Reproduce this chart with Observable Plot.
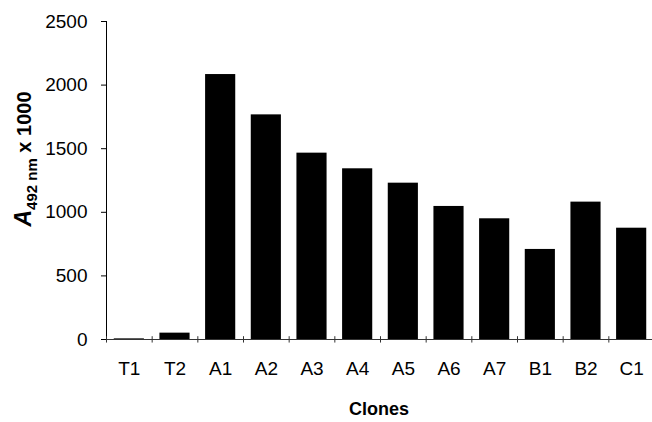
<!DOCTYPE html>
<html>
<head>
<meta charset="utf-8">
<script src="https://cdn.jsdelivr.net/npm/d3@7"></script>
<script src="https://cdn.jsdelivr.net/npm/@observablehq/plot@0.6"></script>
<style>
  html, body { margin: 0; padding: 0; background: #fff; }
  svg { font-family: "Liberation Sans", Arial, Helvetica, sans-serif; }
</style>
</head>
<body>
<div id="chart"></div>
<script>
const clones = ["T1", "T2", "A1", "A2", "A3", "A4", "A5", "A6", "A7", "B1", "B2", "C1"];
const absorbance = [5, 50, 2083, 1766, 1465, 1342, 1229, 1046, 949, 708, 1080, 875];
const yTicks = [0, 500, 1000, 1500, 2000, 2500];

const data = clones.map((c, i) => ({clone: c, value: absorbance[i]}));

const W = 652, H = 422;
const mL = 106, mR = 0, mT = 21, mB = 83;
const xEnd = 654;
const step = (xEnd - mL) / clones.length;

const chart = Plot.plot({
  width: W,
  height: H,
  marginLeft: mL,
  marginRight: mR,
  marginTop: mT,
  marginBottom: mB,
  style: {fontSize: "19px", fontFamily: "'Liberation Sans', Arial, sans-serif", color: "#000", background: "#fff"},
  x: {domain: clones, range: [mL, xEnd], paddingInner: 0.34, paddingOuter: 0.17, align: 0.5, round: false, tickSize: 0, tickPadding: 22, label: null},
  y: {domain: [0, 2500], range: [H - mB, mT], ticks: yTicks, tickSize: 5, tickPadding: 14, tickFormat: d => String(d), label: null, line: true},
  marks: [
    Plot.barY(data, {x: "clone", y: "value", fill: "#000"}),
    Plot.ruleY([0], {stroke: "#333"}),
    Plot.ruleX(data, {x: "clone", y1: -28, y2: 22, dx: -step / 2, stroke: "#333"})
  ]
});

const svg = d3.select(chart);
svg.append("text")
  .attr("x", mL + (W - mL - mR) / 2)
  .attr("y", 415)
  .attr("text-anchor", "middle")
  .attr("font-weight", "bold")
  .attr("font-size", 18)
  .text("Clones");

const yl = svg.append("text")
  .attr("transform", "translate(31,159) rotate(-90)")
  .attr("text-anchor", "middle")
  .attr("font-weight", "bold")
  .attr("font-size", 20);
yl.append("tspan").attr("font-style", "italic").attr("font-size", 23).text("A");
yl.append("tspan").attr("font-size", 15).attr("dy", 6).text("492 nm");
yl.append("tspan").attr("dy", -6).text(" x 1000");

document.getElementById("chart").appendChild(chart);
</script>
</body>
</html>
